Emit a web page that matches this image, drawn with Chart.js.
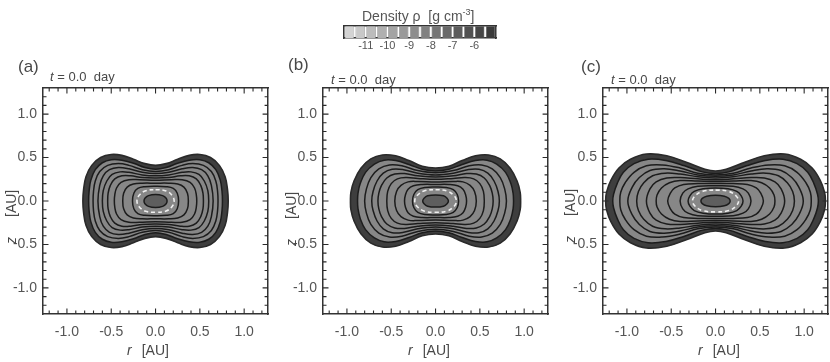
<!DOCTYPE html>
<html>
<head>
<meta charset="UTF-8" />
<title>Density contours t = 0.0 day</title>
<script src="https://cdn.jsdelivr.net/npm/chart.js"></script>
<style>
  html, body { margin: 0; padding: 0; background: #fff; }
  body { width: 830px; height: 362px; position: relative; overflow: hidden;
         font-family: 'Liberation Sans', Arial, sans-serif; color: #484848; }
  canvas { position: absolute; top: 0; }
  .txt { position: absolute; white-space: nowrap; line-height: 1; }
  .lab { font-size: 17px; }
  .time { font-size: 13px; }
  .ax { font-size: 14px; }
  .zlab { transform: rotate(-90deg); transform-origin: 0 0; }
  .gapz { margin-right: 20px; }
  .gapr { margin-right: 10px; }
  .cbt { font-size: 14px; color: #555; }
  sup { font-size: 9px; vertical-align: 6px; }
</style>
</head>
<body>
  <canvas id="cbar" width="180" height="52" style="left:330px"></canvas>
  <div class="txt cbt" style="left:362px; top:8px">Density ρ&nbsp; [g cm<sup>-3</sup>]</div>

  <canvas id="panelA" width="272" height="362" style="left:0px"></canvas>
  <canvas id="panelB" width="272" height="362" style="left:280px"></canvas>
  <canvas id="panelC" width="272" height="362" style="left:560px"></canvas>

  <div class="txt lab" style="left:18px; top:58px">(a)</div>
  <div class="txt time" style="left:50px; top:70px"><i>t</i> = 0.0&nbsp; day</div>
  <div class="txt ax zlab" style="left:4px; top:244px"><i class="gapz">z</i>[AU]</div>
  <div class="txt ax" style="left:127px; top:343px"><i class="gapr">r</i>[AU]</div>

  <div class="txt lab" style="left:288px; top:56px">(b)</div>
  <div class="txt time" style="left:331px; top:73px"><i>t</i> = 0.0&nbsp; day</div>
  <div class="txt ax zlab" style="left:284px; top:246px"><i class="gapz">z</i>[AU]</div>
  <div class="txt ax" style="left:408px; top:343px"><i class="gapr">r</i>[AU]</div>

  <div class="txt lab" style="left:581px; top:58px">(c)</div>
  <div class="txt time" style="left:611px; top:73px"><i>t</i> = 0.0&nbsp; day</div>
  <div class="txt ax zlab" style="left:563px; top:243px"><i class="gapz">z</i>[AU]</div>
  <div class="txt ax" style="left:698px; top:343px"><i class="gapr">r</i>[AU]</div>

<script>
  // axis ticks (AU), same for r and z
  const majorTicks = [-1.0, -0.5, 0.0, 0.5, 1.0]
  const minorTicks = [-1.2, -1.1, -1.0, -0.9, -0.8, -0.7, -0.6, -0.5, -0.4, -0.3, -0.2, -0.1, 0.0,
    0.1, 0.2, 0.3, 0.4, 0.5, 0.6, 0.7, 0.8, 0.9, 1.0, 1.1, 1.2]

  // colorbar: log10 density levels
  const cbLevels = [-11.75, -11.25, -10.75, -10.25, -9.75, -9.25, -8.75, -8.25, -7.75, -7.25, -6.75, -6.25, -5.75, -5.25]
  const cbTicks = [-11, -10, -9, -8, -7, -6]
  const cbGreys = ['#d3d3d3', '#c8c8c8', '#bcbcbc', '#b0b0b0', '#a4a4a4', '#999999', '#8d8d8d',
    '#818181', '#757575', '#696969', '#5d5d5d', '#515151', '#464646', '#3b3b3b']

  // contours, one quadrant each (r >= 0, z >= 0), from the axis to the midplane
  // (a)
  const outerA = [[0, 0.41], [0.12, 0.43], [0.25, 0.48], [0.38, 0.525], [0.50, 0.535], [0.62, 0.50], [0.72, 0.41], [0.785, 0.28], [0.812, 0.13], [0.82, 0]]
  const bandA = [[0, 0.365], [0.12, 0.385], [0.25, 0.435], [0.38, 0.47], [0.50, 0.475], [0.60, 0.44], [0.68, 0.36], [0.73, 0.24], [0.75, 0.11], [0.755, 0]]
  const linesA = [
    [[0, 0.34], [0.15, 0.36], [0.30, 0.41], [0.42, 0.43], [0.54, 0.41], [0.63, 0.34], [0.68, 0.23], [0.70, 0.11], [0.705, 0]],
    [[0, 0.315], [0.15, 0.33], [0.30, 0.37], [0.42, 0.385], [0.52, 0.36], [0.59, 0.29], [0.63, 0.18], [0.65, 0]],
    [[0, 0.29], [0.15, 0.30], [0.30, 0.33], [0.40, 0.335], [0.49, 0.305], [0.55, 0.23], [0.59, 0.12], [0.60, 0]],
    [[0, 0.265], [0.15, 0.27], [0.28, 0.29], [0.38, 0.29], [0.46, 0.255], [0.51, 0.18], [0.535, 0.09], [0.54, 0]],
    [[0, 0.24], [0.18, 0.245], [0.30, 0.245], [0.39, 0.215], [0.44, 0.15], [0.46, 0.07], [0.465, 0]],
    [[0, 0.205], [0.15, 0.205], [0.25, 0.195], [0.32, 0.16], [0.36, 0.09], [0.37, 0]],
    [[0, 0.17], [0.12, 0.165], [0.20, 0.145], [0.245, 0.09], [0.26, 0]]
  ]
  const coreA = [[0, 0.075], [0.08, 0.062], [0.12, 0.032], [0.13, 0]]
  const dashA = [[0, 0.13], [0.12, 0.115], [0.185, 0.065], [0.21, 0]]

  // (b)
  const outerB = [[0, 0.38], [0.15, 0.40], [0.30, 0.465], [0.45, 0.52], [0.60, 0.53], [0.73, 0.485], [0.84, 0.38], [0.92, 0.23], [0.955, 0.10], [0.96, 0]]
  const bandB = [[0, 0.345], [0.15, 0.365], [0.30, 0.42], [0.45, 0.465], [0.58, 0.47], [0.69, 0.425], [0.79, 0.33], [0.85, 0.20], [0.875, 0.09], [0.88, 0]]
  const linesB = [
    [[0, 0.325], [0.2, 0.35], [0.38, 0.405], [0.52, 0.415], [0.64, 0.37], [0.73, 0.27], [0.78, 0.14], [0.80, 0]],
    [[0, 0.30], [0.2, 0.32], [0.36, 0.36], [0.49, 0.365], [0.59, 0.32], [0.66, 0.23], [0.705, 0.11], [0.72, 0]],
    [[0, 0.275], [0.2, 0.29], [0.35, 0.315], [0.46, 0.31], [0.55, 0.265], [0.61, 0.18], [0.64, 0.09], [0.65, 0]],
    [[0, 0.25], [0.2, 0.26], [0.33, 0.27], [0.43, 0.255], [0.50, 0.20], [0.54, 0.11], [0.55, 0]],
    [[0, 0.22], [0.2, 0.225], [0.31, 0.22], [0.39, 0.18], [0.44, 0.11], [0.46, 0]],
    [[0, 0.19], [0.15, 0.19], [0.25, 0.175], [0.31, 0.135], [0.34, 0.07], [0.35, 0]],
    [[0, 0.16], [0.12, 0.155], [0.20, 0.13], [0.245, 0.075], [0.26, 0]]
  ]
  const coreB = [[0, 0.07], [0.09, 0.06], [0.13, 0.032], [0.145, 0]]
  const dashB = [[0, 0.13], [0.13, 0.115], [0.21, 0.06], [0.235, 0]]

  // (c)
  const outerC = [[0, 0.345], [0.12, 0.365], [0.33, 0.445], [0.55, 0.52], [0.78, 0.54], [0.96, 0.48], [1.09, 0.38], [1.18, 0.24], [1.23, 0.10], [1.24, 0]]
  const bandC = [[0, 0.315], [0.15, 0.335], [0.35, 0.405], [0.56, 0.465], [0.76, 0.48], [0.92, 0.43], [1.04, 0.33], [1.11, 0.20], [1.15, 0.08], [1.16, 0]]
  const linesC = [
    [[0, 0.30], [0.2, 0.32], [0.40, 0.38], [0.60, 0.415], [0.78, 0.405], [0.92, 0.33], [1.02, 0.21], [1.07, 0.10], [1.08, 0]],
    [[0, 0.285], [0.2, 0.30], [0.40, 0.345], [0.58, 0.37], [0.74, 0.35], [0.86, 0.27], [0.94, 0.16], [0.99, 0]],
    [[0, 0.265], [0.2, 0.28], [0.40, 0.31], [0.57, 0.32], [0.71, 0.29], [0.81, 0.21], [0.87, 0.11], [0.89, 0]],
    [[0, 0.245], [0.2, 0.255], [0.40, 0.27], [0.55, 0.265], [0.67, 0.22], [0.74, 0.14], [0.78, 0]],
    [[0, 0.225], [0.2, 0.23], [0.40, 0.235], [0.52, 0.21], [0.61, 0.15], [0.66, 0.07], [0.67, 0]],
    [[0, 0.20], [0.2, 0.20], [0.36, 0.19], [0.46, 0.15], [0.51, 0.09], [0.54, 0]],
    [[0, 0.175], [0.2, 0.17], [0.31, 0.14], [0.37, 0.09], [0.40, 0]],
    [[0, 0.15], [0.14, 0.14], [0.24, 0.11], [0.29, 0.06], [0.31, 0]]
  ]
  const coreC = [[0, 0.065], [0.10, 0.055], [0.15, 0.03], [0.165, 0]]
  const dashC = [[0, 0.125], [0.15, 0.11], [0.23, 0.06], [0.26, 0]]

  const INK = '#1c1c1c'

  function isMajor(v) {
    return majorTicks.some(m => Math.abs(m - v) < 1e-6)
  }

  // quadrant -> closed curve, mirrored about both axes
  function loopFrom(quad) {
    const pts = []
    const n = quad.length
    for (let i = 0; i < n; i++) pts.push({ x: quad[i][0], y: quad[i][1] })
    for (let i = n - 2; i >= 0; i--) pts.push({ x: quad[i][0], y: -quad[i][1] })
    for (let i = 1; i < n; i++) pts.push({ x: -quad[i][0], y: -quad[i][1] })
    for (let i = n - 2; i >= 1; i--) pts.push({ x: -quad[i][0], y: quad[i][1] })
    return pts
  }

  // let chart.js close the curves like a radar line (smooth at the seam)
  const closedCurves = {
    id: 'closedCurves',
    afterDatasetUpdate(chart, args) {
      const line = args.meta.dataset
      if (line) {
        line._loop = true
        line._fullLoop = true
      }
    }
  }

  // small tick marks on all four sides, pointing inward
  const inwardTicks = {
    id: 'inwardTicks',
    afterDatasetsDraw(chart) {
      const { ctx, chartArea: a } = chart
      const sx = chart.scales.x
      const sy = chart.scales.y
      ctx.save()
      ctx.strokeStyle = '#2a2a2a'
      ctx.lineWidth = 1.1
      ctx.beginPath()
      minorTicks.forEach(v => {
        const len = isMajor(v) ? 5.5 : 3.5
        const px = sx.getPixelForValue(v)
        ctx.moveTo(px, a.bottom); ctx.lineTo(px, a.bottom - len)
        ctx.moveTo(px, a.top); ctx.lineTo(px, a.top + len)
        const py = sy.getPixelForValue(v)
        ctx.moveTo(a.left, py); ctx.lineTo(a.left + len, py)
        ctx.moveTo(a.right, py); ctx.lineTo(a.right - len, py)
      })
      ctx.stroke()
      ctx.restore()
    }
  }

  function contourSets(outer, band, lines, core, dash) {
    const sets = []
    sets.push({ data: loopFrom(outer), fill: 'shape', backgroundColor: '#3e3e3e', borderColor: '#2a2a2a', borderWidth: 1.6, order: 40 })
    sets.push({ data: loopFrom(band), fill: 'shape', backgroundColor: '#878787', borderColor: INK, borderWidth: 1.5, order: 39 })
    lines.forEach((q, i) => {
      sets.push({ data: loopFrom(q), fill: false, borderColor: INK, borderWidth: 1.5, order: 38 - i })
    })
    sets.push({ data: loopFrom(core), fill: 'shape', backgroundColor: '#5e5e5e', borderColor: INK, borderWidth: 1.5, order: 2 })
    sets.push({ data: loopFrom(dash), fill: false, borderColor: '#f0f0f0', borderWidth: 1.6, borderDash: [4, 3], order: 1 })
    return sets
  }

  function frameAxis(position, min, max, horizontal) {
    return {
      type: 'linear', position, min, max, offset: false,
      ticks: { display: false },
      grid: { display: false, drawTicks: false, offset: false },
      border: { display: true, color: '#333', width: 1.5 },
      afterFit: s => { if (horizontal) s.height = 0; else s.width = 0 }
    }
  }

  function mainAxis(min, max, horizontal) {
    return {
      type: 'linear', min, max,
      afterBuildTicks: s => { s.ticks = minorTicks.map(v => ({ value: v })) },
      afterFit: s => { if (horizontal) s.height = 48; else s.width = 43 },
      ticks: {
        autoSkip: false, maxRotation: 0,
        padding: horizontal ? 10 : 6,
        color: '#555',
        font: { family: 'Liberation Sans', size: 14 },
        callback: v => isMajor(v) ? v.toFixed(1) : ''
      },
      grid: { display: false, drawTicks: false },
      border: { display: true, color: '#333', width: 1.5 }
    }
  }

  function panelChart(id, sets) {
    new Chart(document.getElementById(id), {
      type: 'line',
      data: { datasets: sets },
      options: {
        responsive: false,
        animation: false,
        layout: { padding: { top: 88, right: 3, left: 0, bottom: 0 } },
        elements: { point: { radius: 0, hoverRadius: 0 }, line: { tension: 0.4 } },
        plugins: { legend: { display: false }, tooltip: { enabled: false } },
        scales: {
          x: mainAxis(-1.27, 1.27, true),
          y: mainAxis(-1.3, 1.3, false),
          x2: frameAxis('top', -1.27, 1.27, true),
          y2: frameAxis('right', -1.3, 1.3, false)
        }
      },
      plugins: [closedCurves, inwardTicks]
    })
  }

  panelChart('panelA', contourSets(outerA, bandA, linesA, coreA, dashA))
  panelChart('panelB', contourSets(outerB, bandB, linesB, coreB, dashB))
  panelChart('panelC', contourSets(outerC, bandC, linesC, coreC, dashC))

  // colorbar
  new Chart(document.getElementById('cbar'), {
    type: 'bar',
    data: {
      datasets: [{
        data: cbLevels.map(v => ({ x: v, y: 1 })),
        backgroundColor: cbGreys,
        borderColor: '#707070',
        borderWidth: 0.6,
        barPercentage: 1,
        categoryPercentage: 0.88
      }]
    },
    options: {
      responsive: false,
      animation: false,
      layout: { padding: { top: 26, right: 14, left: 14, bottom: 0 } },
      plugins: { legend: { display: false }, tooltip: { enabled: false } },
      scales: {
        x: {
          type: 'linear', min: -12, max: -5, offset: false,
          afterBuildTicks: s => { s.ticks = cbTicks.map(v => ({ value: v })) },
          afterFit: s => { s.height = 14 },
          ticks: { autoSkip: false, maxRotation: 0, padding: 1, color: '#555', font: { family: 'Liberation Sans', size: 11 } },
          grid: { display: false, drawTicks: false, offset: false },
          border: { display: true, color: '#333', width: 1.5 }
        },
        y: {
          min: 0, max: 1,
          ticks: { display: false },
          grid: { display: false, drawTicks: false },
          border: { display: true, color: '#333', width: 1.5 },
          afterFit: s => { s.width = 0 }
        },
        x2: frameAxis('top', -12, -5, true),
        y2: frameAxis('right', 0, 1, false)
      }
    }
  })
</script>
</body>
</html>
